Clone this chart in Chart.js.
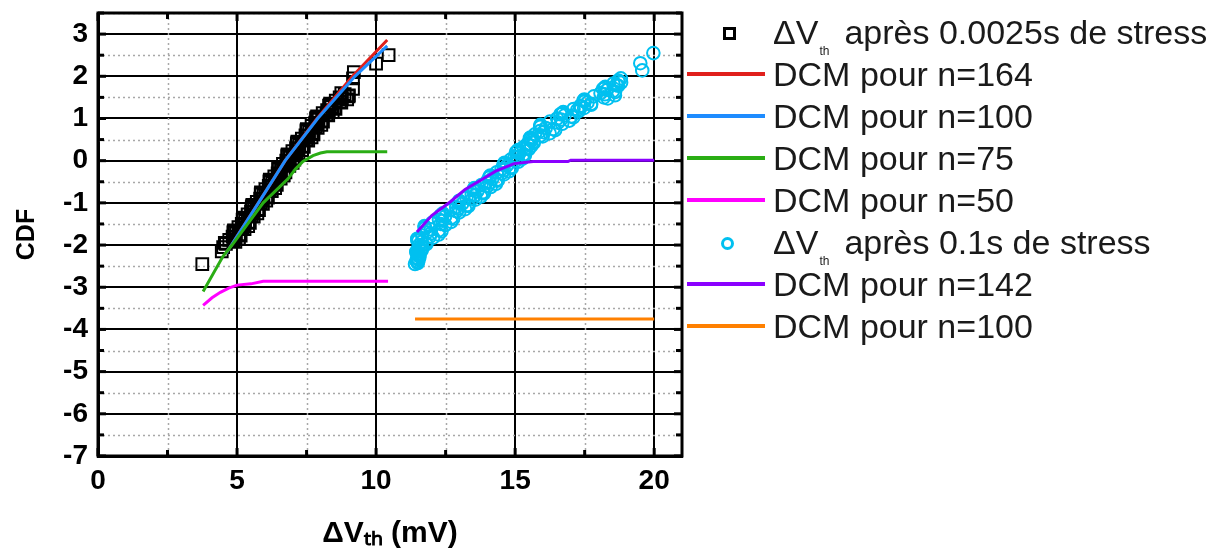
<!DOCTYPE html>
<html><head><meta charset="utf-8">
<script src="https://cdn.jsdelivr.net/npm/chart.js@4/dist/chart.umd.min.js"></script>
<style>
html,body{margin:0;padding:0;background:#fff;}
#wrap{position:relative;width:1220px;height:559px;overflow:hidden;}
#legend{position:absolute;left:0;top:0;font-family:'Liberation Sans',Arial,sans-serif;font-size:34px;color:#1a1a1a;}
.row{position:absolute;left:687px;height:42px;display:flex;align-items:center;white-space:nowrap;}
.sample{width:78px;height:42px;position:relative;flex:none;}
.txt{margin-left:8px;}
.sub{font-size:12px;position:relative;top:11px;margin:0 15px 0 1px;}
</style>
</head><body>
<div id="wrap"><canvas id="c" width="1220" height="559"></canvas><div id="legend"></div></div>
<script>
// ---- Data ----
const xTickLabels = [0, 5, 10, 15, 20];
const yTickLabels = [-7, -6, -5, -4, -3, -2, -1, 0, 1, 2, 3];

const seriesLabels = [
  'ΔVth après 0.0025s de stress',
  'DCM pour n=164',
  'DCM pour n=100',
  'DCM pour n=75',
  'DCM pour n=50',
  'ΔVth après 0.1s de stress',
  'DCM pour n=142',
  'DCM pour n=100'
];
const seriesColors = ['#000000', '#e0201c', '#1e8cff', '#2aad14', '#ff00ff', '#00c0f0', '#8a00ff', '#ff8000'];

// ΔVth après 0.0025s (squares)
const sq_x = [3.75, 4.45, 4.50, 4.60,
  4.56, 4.87, 5.07, 4.84, 5.10, 4.87, 4.89, 5.20, 5.40, 5.17, 5.43, 5.20, 5.22, 5.53, 5.73, 5.50, 5.76, 5.53,
  5.55, 5.86, 6.05, 5.83, 6.08, 5.85, 5.86, 6.18, 6.37, 6.14, 6.39, 6.17, 6.18, 6.49, 6.68, 6.46, 6.71, 6.48,
  6.49, 6.81, 7.00, 6.77, 7.03, 6.81, 6.82, 7.14, 7.34, 7.12, 7.37, 7.15, 7.17, 7.49, 7.68, 7.46, 7.72, 7.50,
  7.51, 7.83, 8.03, 7.81, 8.06, 7.84, 7.88, 8.22, 8.44, 8.24, 8.51, 8.31, 8.35, 8.70, 8.96, 8.69, 9.02, 8.75,
  4.94, 4.72, 4.91, 5.13, 4.96, 4.88, 5.27, 5.05, 5.24, 5.46, 5.29, 5.21, 5.60, 5.38, 5.57, 5.79, 5.62, 5.54,
  5.93, 5.71, 5.90, 6.11, 5.95, 5.86, 6.25, 6.02, 6.22, 6.43, 6.26, 6.17, 6.57, 6.34, 6.53, 6.74, 6.58, 6.49,
  6.88, 6.65, 6.85, 7.06, 6.90, 6.81, 7.21, 6.99, 7.19, 7.40, 7.24, 7.16, 7.56, 7.33, 7.53, 7.75, 7.59, 7.50,
  7.90, 7.68, 7.88, 8.09, 7.93, 7.86, 8.28, 8.08, 8.30, 8.54, 8.39, 8.33, 8.75, 8.55, 8.77, 9.01, 8.87,
  9.17, 9.17, 9.20, 10.00, 10.45];
const sq_y = [-2.45, -2.15, -2.05, -1.97,
  -1.95, -1.90, -1.85, -1.80, -1.75, -1.70, -1.65, -1.60, -1.55, -1.50, -1.45, -1.40, -1.35, -1.30, -1.25, -1.20, -1.15, -1.10,
  -1.05, -1.00, -0.95, -0.90, -0.85, -0.80, -0.75, -0.70, -0.65, -0.60, -0.55, -0.50, -0.45, -0.40, -0.35, -0.30, -0.25, -0.20,
  -0.15, -0.10, -0.05, 0.00, 0.05, 0.10, 0.15, 0.20, 0.25, 0.30, 0.35, 0.40, 0.45, 0.50, 0.55, 0.60, 0.65, 0.70,
  0.75, 0.80, 0.85, 0.90, 0.95, 1.00, 1.05, 1.10, 1.15, 1.20, 1.25, 1.30, 1.35, 1.40, 1.45, 1.50, 1.55, 1.60,
  -1.925, -1.875, -1.825, -1.775, -1.725, -1.675, -1.625, -1.575, -1.525, -1.475, -1.425, -1.375, -1.325, -1.275, -1.225, -1.175, -1.125, -1.075,
  -1.025, -0.975, -0.925, -0.875, -0.825, -0.775, -0.725, -0.675, -0.625, -0.575, -0.525, -0.475, -0.425, -0.375, -0.325, -0.275, -0.225, -0.175,
  -0.125, -0.075, -0.025, 0.025, 0.075, 0.125, 0.175, 0.225, 0.275, 0.325, 0.375, 0.425, 0.475, 0.525, 0.575, 0.625, 0.675, 0.725,
  0.775, 0.825, 0.875, 0.925, 0.975, 1.025, 1.075, 1.125, 1.175, 1.225, 1.275, 1.325, 1.375, 1.425, 1.475, 1.525, 1.575,
  1.70, 1.95, 2.10, 2.30, 2.50];

// DCM n=164 (red)
const dcm164_x = [4.60, 4.80, 5.77, 6.73, 7.88, 9.15, 10.40];
const dcm164_y = [-2.20, -2.00, -1.00, 0.00, 1.00, 2.00, 2.86];
// DCM n=100 (blue)
const dcm100a_x = [4.60, 4.80, 5.77, 6.73, 7.90, 9.24, 10.40];
const dcm100a_y = [-2.20, -2.00, -1.00, 0.00, 1.00, 2.00, 2.72];
// DCM n=75 (green)
const dcm75_x = [3.78, 4.50, 4.82, 5.94, 6.83, 7.10, 7.37, 7.73, 8.00, 8.23, 10.40];
const dcm75_y = [-3.10, -2.26, -2.00, -1.00, -0.43, -0.20, -0.02, 0.12, 0.18, 0.21, 0.21];
// DCM n=50 (magenta)
const dcm50_x = [3.78, 4.10, 4.40, 4.70, 5.00, 5.50, 5.94, 10.43];
const dcm50_y = [-3.43, -3.25, -3.12, -3.02, -2.95, -2.92, -2.86, -2.86];

// ΔVth après 0.1s (circles)
const ci_x = [11.40, 11.49, 11.53, 11.48, 11.55, 11.49, 11.45, 11.60, 11.68, 11.54, 11.78, 11.52, 11.48, 11.93, 12.25, 11.82, 12.26, 11.76,
  11.74, 12.32, 12.70, 12.26, 12.71, 12.32, 12.40, 12.89, 13.20, 12.88, 13.28, 12.96, 12.99, 13.47, 13.77, 13.44, 13.83, 13.50,
  13.53, 14.01, 14.31, 13.98, 14.34, 14.07, 14.11, 14.52, 14.78, 14.51, 14.85, 14.58, 14.62, 15.03, 15.27, 14.99, 15.31, 15.03,
  15.10, 15.42, 15.58, 15.44, 15.66, 15.54, 15.55, 15.92, 16.24, 15.89, 16.37, 15.90, 15.91, 16.54, 16.95, 16.51, 17.03, 16.63,
  16.73, 17.23, 17.48, 17.34, 17.73, 17.50, 17.49, 18.19, 18.59, 18.07, 18.52, 18.16, 18.24, 18.64, 18.81, 18.71,
  11.50, 11.45, 11.50, 11.56, 11.52, 11.45, 11.64, 11.52, 11.61, 11.81, 11.64, 11.48, 12.05, 11.66, 11.97, 12.35, 11.97, 11.75,
  12.49, 12.01, 12.39, 12.77, 12.48, 12.38, 12.99, 12.67, 12.98, 13.32, 13.09, 12.98, 13.57, 13.25, 13.55, 13.88, 13.64, 13.52,
  14.12, 13.79, 14.09, 14.37, 14.18, 14.09, 14.60, 14.34, 14.60, 14.88, 14.69, 14.60, 15.11, 14.84, 15.08, 15.35, 15.15, 15.09,
  15.49, 15.31, 15.48, 15.67, 15.58, 15.53, 15.99, 15.71, 16.02, 16.44, 16.10, 15.91, 16.69, 16.25, 16.65, 17.09, 16.78, 16.70,
  17.29, 17.10, 17.37, 17.73, 17.60, 17.46, 18.33, 17.83, 18.23, 18.59, 18.30, 18.22, 18.70, 18.53, 18.72,
  18.80, 19.57, 19.50, 19.97];
const ci_y = [-2.45, -2.40, -2.35, -2.30, -2.25, -2.20, -2.15, -2.10, -2.05, -2.00, -1.95, -1.90, -1.85, -1.80, -1.75, -1.70, -1.65, -1.60,
  -1.55, -1.50, -1.45, -1.40, -1.35, -1.30, -1.25, -1.20, -1.15, -1.10, -1.05, -1.00, -0.95, -0.90, -0.85, -0.80, -0.75, -0.70,
  -0.65, -0.60, -0.55, -0.50, -0.45, -0.40, -0.35, -0.30, -0.25, -0.20, -0.15, -0.10, -0.05, 0.00, 0.05, 0.10, 0.15, 0.20,
  0.25, 0.30, 0.35, 0.40, 0.45, 0.50, 0.55, 0.60, 0.65, 0.70, 0.75, 0.80, 0.85, 0.90, 0.95, 1.00, 1.05, 1.10,
  1.15, 1.20, 1.25, 1.30, 1.35, 1.40, 1.45, 1.50, 1.55, 1.60, 1.65, 1.70, 1.75, 1.80, 1.85, 1.90,
  -2.425, -2.375, -2.325, -2.275, -2.225, -2.175, -2.125, -2.075, -2.025, -1.975, -1.925, -1.875, -1.825, -1.775, -1.725, -1.675, -1.625, -1.575,
  -1.525, -1.475, -1.425, -1.375, -1.325, -1.275, -1.225, -1.175, -1.125, -1.075, -1.025, -0.975, -0.925, -0.875, -0.825, -0.775, -0.725, -0.675,
  -0.625, -0.575, -0.525, -0.475, -0.425, -0.375, -0.325, -0.275, -0.225, -0.175, -0.125, -0.075, -0.025, 0.025, 0.075, 0.125, 0.175, 0.225,
  0.275, 0.325, 0.375, 0.425, 0.475, 0.525, 0.575, 0.625, 0.675, 0.725, 0.775, 0.825, 0.875, 0.925, 0.975, 1.025, 1.075, 1.125,
  1.175, 1.225, 1.275, 1.325, 1.375, 1.425, 1.475, 1.525, 1.575, 1.625, 1.675, 1.725, 1.775, 1.825, 1.875,
  1.95, 2.14, 2.31, 2.55];

// DCM n=142 (purple)
const dcm142_x = [11.47, 12.00, 12.66, 13.20, 13.85, 14.30, 14.70, 14.96, 15.65, 16.90, 17.00, 20.00];
const dcm142_y = [-1.69, -1.30, -0.98, -0.68, -0.43, -0.25, -0.14, -0.07, -0.02, -0.02, 0.01, 0.01];
// DCM n=100 (orange)
const dcm100b_x = [11.40, 20.00];
const dcm100b_y = [-3.75, -3.75];

// ---- Build datasets ----
const zip = (xs, ys) => xs.map((x, i) => ({x, y: ys[i]}));
const FONT = "'Liberation Sans', Arial, sans-serif";

function lineDs(i, xs, ys, order) {
  return {label: seriesLabels[i], data: zip(xs, ys), showLine: true, borderColor: seriesColors[i],
    backgroundColor: seriesColors[i], borderWidth: 3, pointRadius: 0, tension: 0, order};
}
const datasets = [
  {label: seriesLabels[0], data: zip(sq_x, sq_y), pointStyle: 'rect', pointRadius: 8.3, borderWidth: 2,
    borderColor: seriesColors[0], backgroundColor: 'rgba(0,0,0,0)', showLine: false, order: 5},
  lineDs(1, dcm164_x, dcm164_y, 3),
  lineDs(2, dcm100a_x, dcm100a_y, 2),
  lineDs(3, dcm75_x, dcm75_y, 1),
  lineDs(4, dcm50_x, dcm50_y, 1),
  {label: seriesLabels[5], data: zip(ci_x, ci_y), pointStyle: 'circle', pointRadius: 6.3, borderWidth: 2,
    borderColor: seriesColors[5], backgroundColor: 'rgba(0,0,0,0)', showLine: false, order: 5},
  lineDs(6, dcm142_x, dcm142_y, 1),
  lineDs(7, dcm100b_x, dcm100b_y, 1)
];

const isInt = v => Math.abs(v - Math.round(v)) < 1e-6;
const isMul5 = v => Math.abs(v / 5 - Math.round(v / 5)) < 1e-6;

const framePlugin = {
  id: 'frame',
  beforeDatasetsDraw(chart) {
    const {ctx, chartArea: {left, right, top, bottom}, scales: {x, y}} = chart;
    ctx.save();
    ctx.strokeStyle = '#a8a8a8';
    ctx.lineWidth = 1.5;
    ctx.setLineDash([2, 3]);
    y.ticks.forEach(t => {
      if (isInt(t.value)) return;
      const py = Math.round(y.getPixelForValue(t.value)) + 0.5;
      ctx.beginPath(); ctx.moveTo(left, py); ctx.lineTo(right, py); ctx.stroke();
    });
    x.ticks.forEach(t => {
      if (isMul5(t.value)) return;
      const px = Math.round(x.getPixelForValue(t.value)) + 0.5;
      ctx.beginPath(); ctx.moveTo(px, top); ctx.lineTo(px, bottom); ctx.stroke();
    });
    ctx.restore();
  },
  afterDatasetsDraw(chart) {
    const {ctx, chartArea: {left, right, top, bottom}, scales: {x, y}} = chart;
    ctx.save();
    ctx.strokeStyle = '#000';
    ctx.lineWidth = 3;
    const seg = (a, b, c, d) => { ctx.beginPath(); ctx.moveTo(a, b); ctx.lineTo(c, d); ctx.stroke(); };
    y.ticks.forEach(t => {
      const py = y.getPixelForValue(t.value);
      const len = isInt(t.value) ? 8 : 6;
      seg(left, py, left + len, py);
      seg(right, py, right - len, py);
    });
    x.ticks.forEach(t => {
      const px = x.getPixelForValue(t.value);
      const len = isMul5(t.value) ? 8 : 6;
      seg(px, top, px, top + len);
      seg(px, bottom, px, bottom - len);
    });
    ctx.strokeRect(left, top, right - left, bottom - top);
    ctx.restore();
  }
};

new Chart(document.getElementById('c'), {
  type: 'scatter',
  data: {datasets},
  options: {
    responsive: false,
    animation: false,
    layout: {padding: {left: 0, top: 13, right: 538, bottom: 0}},
    plugins: {legend: {display: false}, tooltip: {enabled: false}},
    scales: {
      x: {
        type: 'linear', min: 0, max: 21,
        ticks: {stepSize: 2.5, autoSkip: false, includeBounds: false, maxRotation: 0, padding: 8, color: '#000',
          font: {family: FONT, size: 28, weight: 'bold'},
          callback: v => (xTickLabels.includes(v) ? String(v) : '')},
        grid: {drawTicks: false,
          color: c => (c.tick && isMul5(c.tick.value) ? '#000' : 'rgba(0,0,0,0)'),
          lineWidth: 2},
        border: {display: true, color: '#000', width: 3},
        title: {display: true, text: 'ΔVₜₕ (mV)', color: '#000', font: {family: FONT, size: 30, weight: 'bold'}, padding: {top: 0, bottom: 7}},
        afterFit: s => { s.height = 103; s.paddingLeft = 0; s.paddingRight = 0; }
      },
      y: {
        type: 'linear', min: -7, max: 3.5,
        ticks: {stepSize: 0.5, autoSkip: false, includeBounds: false, padding: 10, color: '#000',
          font: {family: FONT, size: 28, weight: 'bold'},
          callback: v => (isInt(v) && yTickLabels.includes(Math.round(v)) ? String(Math.round(v)) : '')},
        grid: {drawTicks: false,
          color: c => (c.tick && isInt(c.tick.value) ? '#000' : 'rgba(0,0,0,0)'),
          lineWidth: 2},
        border: {display: true, color: '#000', width: 3},
        title: {display: true, text: 'CDF', color: '#000', font: {family: FONT, size: 25, weight: 'bold'}, padding: {top: 12, bottom: 0}},
        afterFit: s => { s.width = 98; s.paddingTop = 0; s.paddingBottom = 0; }
      }
    }
  },
  plugins: [framePlugin]
});

// ---- HTML legend (text with subscript) ----
const legend = document.getElementById('legend');
const rowCenters0 = 32, rowStep = 42;
datasets.forEach((ds, i) => {
  const row = document.createElement('div');
  row.className = 'row';
  row.style.top = (rowCenters0 + i * rowStep - 21) + 'px';
  const sample = document.createElement('div');
  sample.className = 'sample';
  const mk = document.createElement('div');
  mk.style.position = 'absolute';
  if (ds.showLine) {
    mk.style.left = '0px'; mk.style.top = '19px'; mk.style.width = '78px'; mk.style.height = '4px';
    mk.style.background = ds.borderColor;
  } else if (ds.pointStyle === 'rect') {
    mk.style.left = '36px'; mk.style.top = '16px'; mk.style.width = '7px'; mk.style.height = '7px';
    mk.style.border = '3px solid #000';
  } else {
    mk.style.left = '34px'; mk.style.top = '16px'; mk.style.width = '7px'; mk.style.height = '7px';
    mk.style.border = '3px solid ' + ds.borderColor; mk.style.borderRadius = '50%';
  }
  sample.appendChild(mk);
  const txt = document.createElement('span');
  txt.className = 'txt';
  const label = seriesLabels[i];
  if (label.startsWith('ΔVth')) {
    txt.innerHTML = 'ΔV<span class="sub">th</span>' + label.slice(4).trim();
  } else {
    txt.textContent = label;
  }
  row.appendChild(sample);
  row.appendChild(txt);
  legend.appendChild(row);
});
</script>
</body></html>
